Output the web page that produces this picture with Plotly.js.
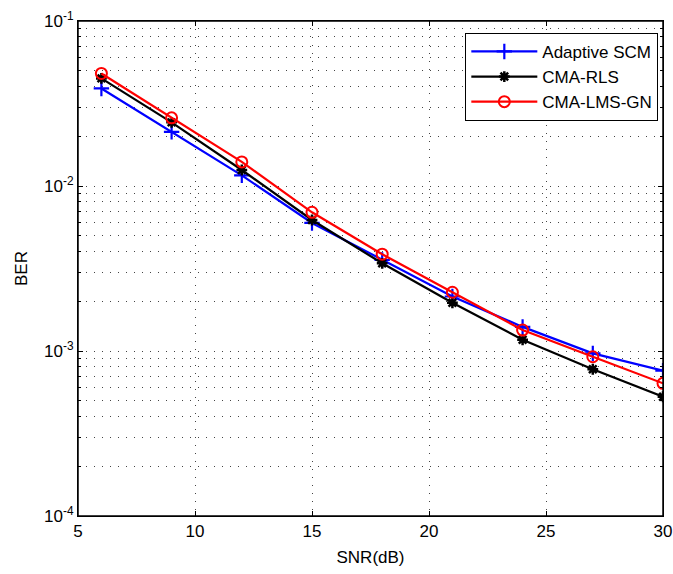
<!DOCTYPE html>
<html>
<head>
<meta charset="utf-8">
<script src="https://cdn.plot.ly/plotly-3.0.1.min.js"></script>
<style>html,body{margin:0;padding:0;background:#fff;overflow:hidden;}#chart{width:673px;height:574px;}</style>
</head>
<body>
<div id="chart"></div>
<script>
const snr = [6, 9, 12, 15, 18, 21, 24, 27, 30];
const berAdaptiveSCM = [0.0390, 0.0213, 0.0116, 0.00597, 0.00356, 0.00214, 0.00140, 0.000968, 0.000760];
const berCmaRls      = [0.0449, 0.0243, 0.0125, 0.00622, 0.00340, 0.00196, 0.00117, 0.000775, 0.000528];
const berCmaLmsGn    = [0.0481, 0.0259, 0.0140, 0.00693, 0.00386, 0.00227, 0.00134, 0.000923, 0.000637];
const seriesNames = ['Adaptive SCM', 'CMA-RLS', 'CMA-LMS-GN'];
const xTickVals = [5, 10, 15, 20, 25, 30];
const yTickVals = [0.1, 0.01, 0.001, 0.0001];
const yTickText = ['10<sup>-1</sup>', '10<sup>-2</sup>', '10<sup>-3</sup>', '10<sup>-4</sup>'];
const decades = [0.0001, 0.001, 0.01];
const mantissas = [2, 3, 4, 5, 6, 7, 8, 9];
const yMinorVals = [];
decades.forEach(d => mantissas.forEach(m => yMinorVals.push(m * d)));

const FONT = 'Liberation Sans, Arial, sans-serif';
const GRID = '#444';
const DOT = '1px,7px';

const traces = [
  {x: snr, y: berAdaptiveSCM, name: seriesNames[0], legendgroup: 'a', mode: 'lines+markers',
   line: {color: '#0000ff', width: 2.2},
   marker: {symbol: 'cross-thin-open', size: 11, color: '#0000ff', line: {color: '#0000ff', width: 2.2}}},
  {x: snr, y: berCmaRls, name: seriesNames[1], legendgroup: 'b', mode: 'lines+markers',
   line: {color: '#000000', width: 2.2},
   marker: {symbol: 'asterisk-open', size: 9, color: '#000000', line: {color: '#000000', width: 2.5}}},
  {x: snr, y: berCmaLmsGn, name: seriesNames[2], legendgroup: 'c', mode: 'lines+markers',
   line: {color: '#ff0000', width: 2.2},
   marker: {symbol: 'circle-open', size: 11, color: '#ff0000', line: {color: '#ff0000', width: 2}}}
];

const layout = {
  width: 673, height: 574,
  margin: {l: 78, r: 10, t: 21, b: 58},
  paper_bgcolor: '#ffffff', plot_bgcolor: '#ffffff',
  font: {family: FONT, size: 17, color: '#000'},
  showlegend: true,
  legend: {x: 0.992, y: 0.976, xanchor: 'right', yanchor: 'top',
           bgcolor: '#ffffff', bordercolor: '#000', borderwidth: 1, itemwidth: 66,
           font: {family: FONT, size: 17, color: '#000'}, tracegroupgap: 0},
  shapes: [{type: 'rect', xref: 'paper', yref: 'paper', x0: 0, x1: 1, y0: 0, y1: 1,
            line: {color: '#000', width: 1.5}, fillcolor: 'rgba(0,0,0,0)', layer: 'above'}],
  xaxis: {
    range: [5, 30], tickvals: xTickVals, ticks: 'inside', ticklen: 5, tickcolor: '#000',
    showline: true, linecolor: '#000', linewidth: 1, mirror: 'allticks',
    showgrid: true, gridcolor: GRID, griddash: DOT, gridwidth: 1, zeroline: false,
    tickfont: {family: FONT, size: 17}, ticklabeloverflow: 'allow',
    title: {text: 'SNR(dB)', font: {family: FONT, size: 17}, standoff: 10}
  },
  yaxis: {
    type: 'log', range: [-4, -1], tickvals: yTickVals, ticktext: yTickText,
    ticks: 'inside', ticklen: 5, tickcolor: '#000',
    showline: true, linecolor: '#000', linewidth: 1, mirror: 'allticks',
    showgrid: true, gridcolor: GRID, griddash: DOT, gridwidth: 1, zeroline: false,
    tickfont: {family: FONT, size: 17},
    minor: {tickvals: yMinorVals, ticks: 'inside', ticklen: 3, tickcolor: '#000',
            showgrid: true, gridcolor: GRID, griddash: DOT, gridwidth: 1},
    title: {text: 'BER', font: {family: FONT, size: 17}, standoff: 12}
  }
};

Plotly.newPlot('chart', traces, layout, {displayModeBar: false, staticPlot: true});
</script>
</body>
</html>
